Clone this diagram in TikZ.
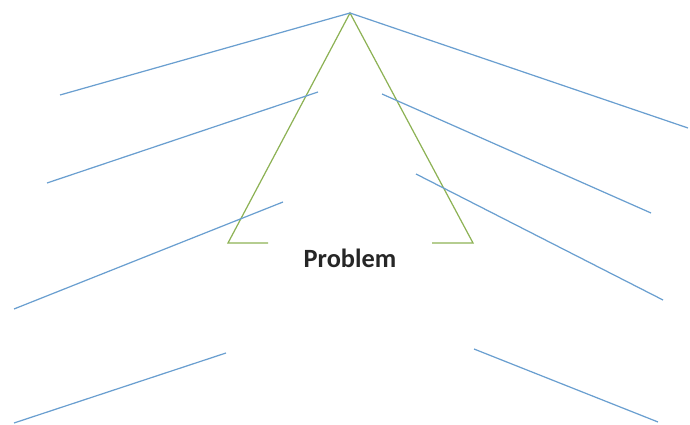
\documentclass[tikz,border=0pt]{standalone}
\usepackage{fontspec}
\newfontfamily\labelfont{Carlito}
\definecolor{boneblue}{HTML}{6A9FD0}
\definecolor{headgreen}{HTML}{8DB255}
\usetikzlibrary{calc}

\begin{document}
\begin{tikzpicture}[
  x=0.02cm, y=-0.02cm,
  bone/.style={color=boneblue, line width=0.7pt},
  head/.style={color=headgreen, line width=0.7pt},
  label/.style={font=\labelfont\fontsize{15}{18}\selectfont\bfseries, text=black!85},
]
  \useasboundingbox (0,0) rectangle (690,425);

  % Apex and triangle
  \coordinate (apex) at (350,13);
  \coordinate (lfoot) at (228,243);
  \coordinate (rfoot) at (473,243);
  \coordinate (lend) at (268,243);
  \coordinate (rend) at (432,243);
  \draw[head] (lend) -- (lfoot) -- (apex) -- (rfoot) -- (rend);

  % Problem label
  \node[label] (problem) at (350,258) {Problem};

  % Top bones from the apex
  \coordinate (ltop) at (60,95);
  \coordinate (rtop) at (688,128);
  \draw[bone] (apex) -- (ltop);
  \draw[bone] (apex) -- (rtop);

  % Left bones
  \coordinate (l1a) at (318,92);  \coordinate (l1b) at (47,183);
  \coordinate (l2a) at (283,202); \coordinate (l2b) at (14,309);
  \coordinate (l3a) at (226,353); \coordinate (l3b) at (14,423);
  \draw[bone] (l1a) -- (l1b);
  \draw[bone] (l2a) -- (l2b);
  \draw[bone] (l3a) -- (l3b);

  % Right bones
  \coordinate (r1a) at (382,94);  \coordinate (r1b) at (651,213);
  \coordinate (r2a) at (416,174); \coordinate (r2b) at (663,300);
  \coordinate (r3a) at (474,349); \coordinate (r3b) at (658,422);
  \draw[bone] (r1a) -- (r1b);
  \draw[bone] (r2a) -- (r2b);
  \draw[bone] (r3a) -- (r3b);
\end{tikzpicture}
\end{document}
